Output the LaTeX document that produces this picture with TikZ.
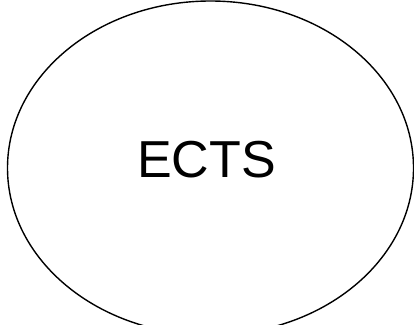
\documentclass[tikz,border=0pt]{standalone}
\usepackage{fontspec}
\setmainfont{Liberation Sans}
\usetikzlibrary{shapes.geometric}
\tikzset{
  blob/.style={draw=black, ellipse, line width=1.4pt, inner sep=0pt,
    minimum width=406pt, minimum height=334pt},
  blobtxt/.style={font=\fontsize{52}{60}\selectfont, inner sep=0pt},
}

\begin{document}
\begin{tikzpicture}[x=1pt, y=-1pt]
  \useasboundingbox (0,0) rectangle (414,324);

  %% ---- ECTS ellipse ----
  \node[blob, label={[blobtxt, name=ectstxt, xshift=-4pt, yshift=8pt]center:ECTS}] (ects) at (210.5,168) {};

\end{tikzpicture}
\end{document}
